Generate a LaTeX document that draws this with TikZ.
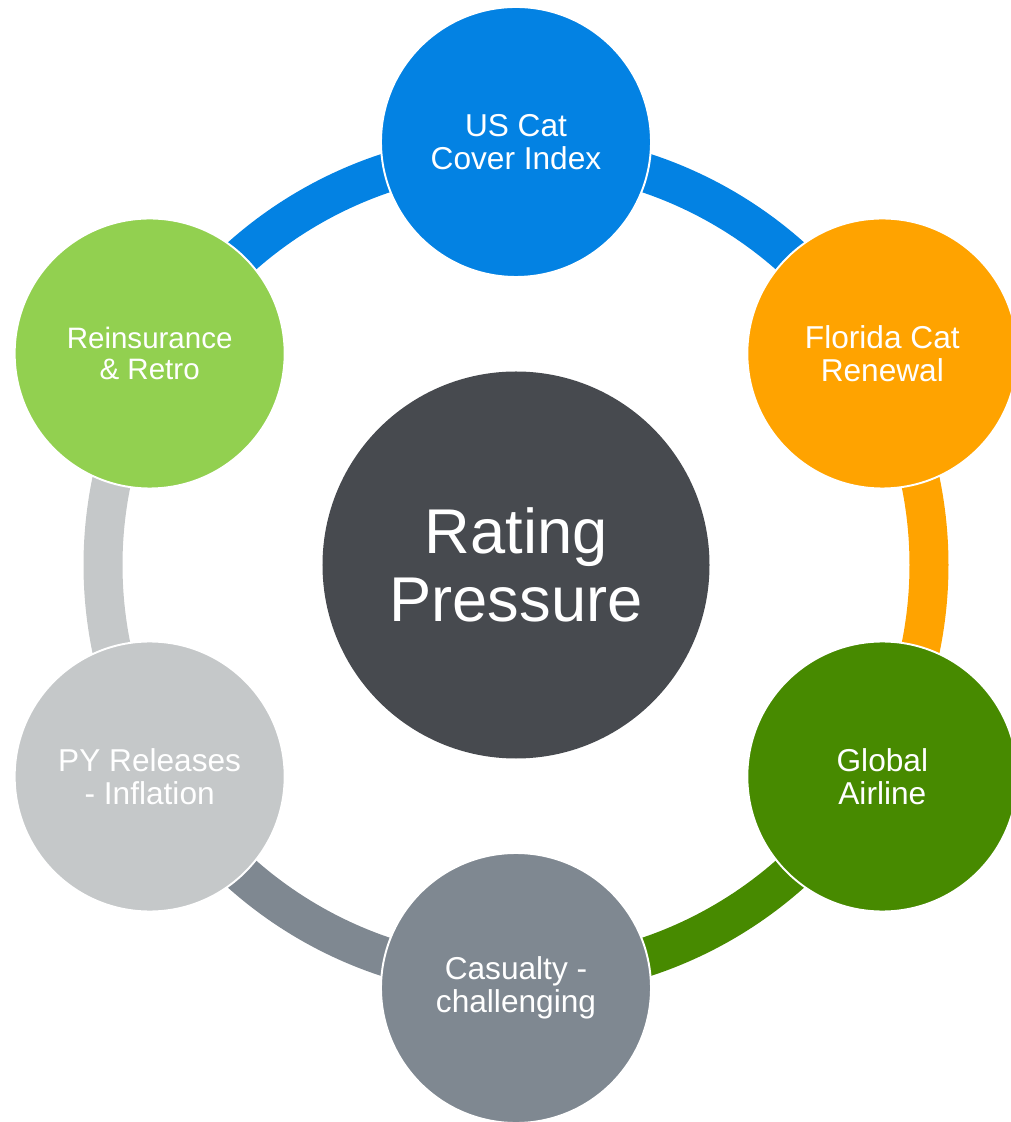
\documentclass[tikz,border=0pt]{standalone}
\usepackage{fontspec}
\setmainfont{Liberation Sans}
\usetikzlibrary{backgrounds}

\definecolor{catblue}{RGB}{3,130,227}
\definecolor{florida}{RGB}{255,163,0}
\definecolor{airline}{RGB}{71,138,0}
\definecolor{casualty}{RGB}{127,136,145}
\definecolor{pyrel}{RGB}{197,200,201}
\definecolor{retro}{RGB}{146,208,80}
\definecolor{hubgrey}{RGB}{71,74,79}

\tikzset{
  spoke/.style = {circle, minimum size = 5.4cm, inner sep = 0pt, draw = white,
                  line width = 1.1pt, text = white, align = center,
                  font = \fontsize{18}{18.8}\selectfont},
  hub/.style   = {circle, minimum size = 7.74cm, inner sep = 0pt, fill = hubgrey,
                  text = white, align = center,
                  font = \fontsize{36}{38.6}\selectfont},
  ring/.style  = {line width = 0.78cm}
}

\begin{document}
\begin{tikzpicture}

            \useasboundingbox (-10.32,-11.14) rectangle (9.88,11.30);

            % centre and the six outer circles
            \node [hub] (hub) at (0,0) {Rating\\Pressure};
            \node [spoke, fill = catblue]  (uscat)    at (90:8.46)   {US Cat\\Cover Index};
            \node [spoke, fill = florida]  (florida)  at (30:8.46)   {Florida Cat\\Renewal};
            \node [spoke, fill = airline]  (airline)  at (-30:8.46)  {Global\\Airline};
            \node [spoke, fill = casualty] (casualty) at (-90:8.46)  {Casualty -\\challenging};
            \node [spoke, fill = pyrel]    (pyrel)    at (-150:8.46) {PY Releases\\- Inflation};
            \node [spoke, fill = retro, font = \fontsize{16.8}{17.2}\selectfont]
                                           (retro)    at (150:8.46)  {Reinsurance\\\& Retro};

            % ring pieces behind the circles
            \begin{scope}[on background layer]
              \foreach \a/\b/\c in {30/90/catblue, 90/150/catblue, -30/30/florida,
                                    -90/-30/airline, -150/-90/casualty, 150/210/pyrel} {
                \draw [ring, \c] (hub.center) ++(\a:8.26) arc [start angle = \a, end angle = \b, radius = 8.26];
              }
            \end{scope}
            \end{tikzpicture}
\end{document}
